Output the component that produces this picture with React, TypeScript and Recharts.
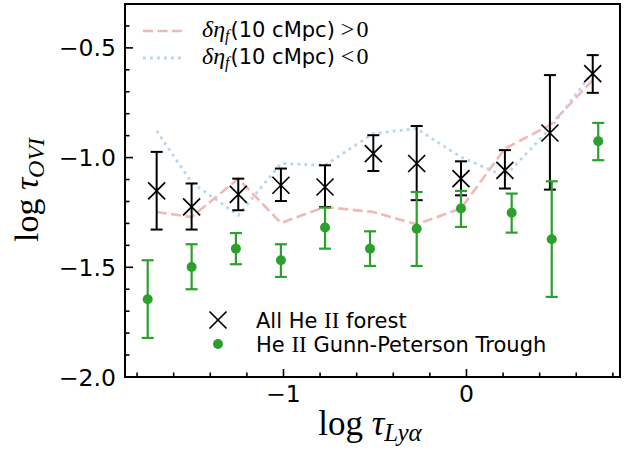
import React from "react";
import {
  ComposedChart,
  Line,
  Scatter,
  ErrorBar,
  XAxis,
  YAxis,
  ReferenceArea,
} from "recharts";

// All He II forest (black crosses)
const allX = [-1.693, -1.502, -1.247, -1.014, -0.773, -0.509, -0.272, -0.03, 0.21, 0.456, 0.69];
const allY = [-1.152, -1.225, -1.168, -1.126, -1.134, -0.982, -1.027, -1.096, -1.058, -0.888, -0.617];
const allHi = [-0.974, -1.118, -1.096, -1.05, -1.035, -0.898, -0.856, -1.017, -0.966, -0.624, -0.533];
const allLo = [-1.328, -1.328, -1.24, -1.198, -1.225, -1.061, -1.194, -1.172, -1.141, -1.146, -0.705];

// He II Gunn-Peterson trough (green dots)
const gpX = [-1.742, -1.502, -1.26, -1.014, -0.773, -0.527, -0.272, -0.03, 0.247, 0.466, 0.72];
const gpY = [-1.646, -1.499, -1.415, -1.468, -1.319, -1.415, -1.324, -1.232, -1.251, -1.372, -0.925];
const gpHi = [-1.468, -1.395, -1.344, -1.395, -1.228, -1.336, -1.157, -1.152, -1.164, -1.108, -0.842];
const gpLo = [-1.822, -1.6, -1.486, -1.544, -1.415, -1.494, -1.494, -1.316, -1.342, -1.635, -1.012];

// delta eta_f (10 cMpc) > 0 and < 0
const splitX = allX;
const posY = [-1.248, -1.271, -1.096, -1.298, -1.225, -1.248, -1.304, -1.232, -0.959, -0.852, -0.647];
const negY = [-0.878, -1.113, -1.263, -1.027, -1.035, -0.89, -0.868, -0.998, -1.085, -0.868, -0.611];

const xTicks = [-1.8, -1.6, -1.4, -1.2, -1.0, -0.8, -0.6, -0.4, -0.2, 0, 0.2, 0.4, 0.6, 0.8];
const xLabels = [-1, 0];
const yTicks = [-2.0, -1.9, -1.8, -1.7, -1.6, -1.5, -1.4, -1.3, -1.2, -1.1, -1.0, -0.9, -0.8, -0.7, -0.6, -0.5, -0.4];
const yLabels = [-2.0, -1.5, -1.0, -0.5];

const X_DOMAIN: [number, number] = [-1.866, 0.839];
const Y_DOMAIN: [number, number] = [-2.0, -0.3];

const GREEN = "#2ca02c";
const PINK = "#f2b8b8";
const LIGHTBLUE = "#b9d5ea";
const SANS = "DejaVu Sans";
const SERIF = "Liberation Serif";

const allData = allX.map((x, i) => ({ x, y: allY[i], err: [allY[i] - allLo[i], allHi[i] - allY[i]] }));
const gpData = gpX.map((x, i) => ({ x, y: gpY[i], err: [gpY[i] - gpLo[i], gpHi[i] - gpY[i]] }));
const posData = splitX.map((x, i) => ({ x, y: posY[i] }));
const negData = splitX.map((x, i) => ({ x, y: negY[i] }));

const isMajor = (v: number, list: number[]) => list.some((m) => Math.abs(m - v) < 1e-6);
const fmt = (v: number, digits: number) => {
  const s = Math.abs(v).toFixed(digits);
  return v < -1e-9 ? "\u2212" + s : s;
};

const YTick = ({ x, y, payload }: any) => {
  const major = isMajor(payload.value, yLabels);
  return (
    <g>
      <line x1={x} x2={x + (major ? 8 : 4.5)} y1={y} y2={y} stroke="#000" strokeWidth={1.6} />
      {major && (
        <text x={x - 9} y={y + 8.5} textAnchor="end" fontFamily={SANS} fontSize={23.5} fill="#000">
          {fmt(payload.value, 1)}
        </text>
      )}
    </g>
  );
};

const XTick = ({ x, y, payload }: any) => {
  const major = isMajor(payload.value, xLabels);
  return (
    <g>
      <line x1={x} x2={x} y1={y} y2={y - (major ? 8 : 4.5)} stroke="#000" strokeWidth={1.6} />
      {major && (
        <text x={x} y={y + 25} textAnchor="middle" fontFamily={SANS} fontSize={23.5} fill="#000">
          {fmt(payload.value, 0)}
        </text>
      )}
    </g>
  );
};

const Cross = ({ cx, cy }: any) => {
  const h = 8.5;
  return (
    <g stroke="#000" strokeWidth={1.7}>
      <line x1={cx - h} y1={cy - h} x2={cx + h} y2={cy + h} />
      <line x1={cx - h} y1={cy + h} x2={cx + h} y2={cy - h} />
    </g>
  );
};

const Dot = ({ cx, cy }: any) => <circle cx={cx} cy={cy} r={5} fill={GREEN} />;

const App = () => {
  return (
    <div style={{ position: "absolute", left: 0, top: 0, width: 634, height: 451, background: "#fff" }}>
      <ComposedChart width={634} height={451} margin={{ top: 4, right: 14, bottom: 0, left: 0 }}>
        <XAxis
          type="number"
          dataKey="x"
          domain={X_DOMAIN}
          allowDataOverflow
          ticks={xTicks}
          tick={<XTick />}
          tickLine={false}
          axisLine={false}
          tickSize={0}
          tickMargin={0}
          height={74}
          interval={0}
        />
        <YAxis
          type="number"
          dataKey="y"
          domain={Y_DOMAIN}
          allowDataOverflow
          ticks={yTicks}
          tick={<YTick />}
          tickLine={false}
          axisLine={false}
          tickSize={0}
          tickMargin={0}
          width={125}
          interval={0}
        />
        <Line
          data={posData}
          dataKey="y"
          type="linear"
          stroke={PINK}
          strokeWidth={2.6}
          strokeDasharray="10 4.5"
          dot={false}
          activeDot={false}
          isAnimationActive={false}
        />
        <Line
          data={negData}
          dataKey="y"
          type="linear"
          stroke={LIGHTBLUE}
          strokeWidth={2.8}
          strokeDasharray="2.8 4.2"
          dot={false}
          activeDot={false}
          isAnimationActive={false}
        />
        <Scatter data={allData} shape={<Cross />} isAnimationActive={false}>
          <ErrorBar dataKey="err" direction="y" width={6} stroke="#000" strokeWidth={2} isAnimationActive={false} />
        </Scatter>
        <Scatter data={gpData} shape={<Dot />} isAnimationActive={false}>
          <ErrorBar dataKey="err" direction="y" width={6} stroke={GREEN} strokeWidth={2.2} isAnimationActive={false} />
        </Scatter>
        <ReferenceArea
          x1={X_DOMAIN[0]}
          x2={X_DOMAIN[1]}
          y1={Y_DOMAIN[0]}
          y2={Y_DOMAIN[1]}
          fill="none"
          stroke="#000"
          strokeWidth={2}
          ifOverflow="visible"
        />
      </ComposedChart>
      <svg
        width={634}
        height={451}
        style={{ position: "absolute", left: 0, top: 0, pointerEvents: "none" }}
      >
        {/* top legend */}
        <line x1={143} x2={183} y1={31} y2={31} stroke={PINK} strokeWidth={2.6} strokeDasharray="10 4.5" />
        <text x={202} y={37} fontSize={21} fill="#000">
          <tspan fontFamily={SERIF} fontStyle="italic" fontSize={24}>δη</tspan>
          <tspan fontFamily={SERIF} fontStyle="italic" fontSize={16} dy={4}>f</tspan>
          <tspan fontFamily={SANS} dy={-4} dx={1}>(10 cMpc)</tspan>
          <tspan fontFamily={SERIF} fontSize={24} dx={6}>&gt;</tspan>
          <tspan fontFamily={SERIF} fontSize={24} dx={2}>0</tspan>
        </text>
        <line x1={143} x2={183} y1={58} y2={58} stroke={LIGHTBLUE} strokeWidth={2.8} strokeDasharray="2.8 4.2" />
        <text x={202} y={63.5} fontSize={21} fill="#000">
          <tspan fontFamily={SERIF} fontStyle="italic" fontSize={24}>δη</tspan>
          <tspan fontFamily={SERIF} fontStyle="italic" fontSize={16} dy={4}>f</tspan>
          <tspan fontFamily={SANS} dy={-4} dx={1}>(10 cMpc)</tspan>
          <tspan fontFamily={SERIF} fontSize={24} dx={6}>&lt;</tspan>
          <tspan fontFamily={SERIF} fontSize={24} dx={2}>0</tspan>
        </text>

        {/* bottom legend */}
        <Cross cx={218} cy={320} />
        <text x={256} y={327.5} fontSize={21} fill="#000" fontFamily={SANS}>
          All He <tspan fontFamily={SERIF} fontSize={23}>II</tspan> forest
        </text>
        <Dot cx={218} cy={344} />
        <text x={256} y={351.5} fontSize={21} fill="#000" fontFamily={SANS}>
          He <tspan fontFamily={SERIF} fontSize={23}>II</tspan> Gunn-Peterson Trough
        </text>

        {/* axis labels */}
        <text x={370} y={435} textAnchor="middle" fontFamily={SERIF} fontSize={35} fill="#000">
          log <tspan fontStyle="italic">τ</tspan>
          <tspan fontStyle="italic" fontSize={25} dy={6}>Lyα</tspan>
        </text>
        <text
          x={38}
          y={190}
          textAnchor="middle"
          fontFamily={SERIF}
          fontSize={34}
          fill="#000"
          transform="rotate(-90 38 190)"
        >
          log <tspan fontStyle="italic">τ</tspan>
          <tspan fontStyle="italic" fontSize={24} dy={6}>OVI</tspan>
        </text>
      </svg>
    </div>
  );
};

export default App;
